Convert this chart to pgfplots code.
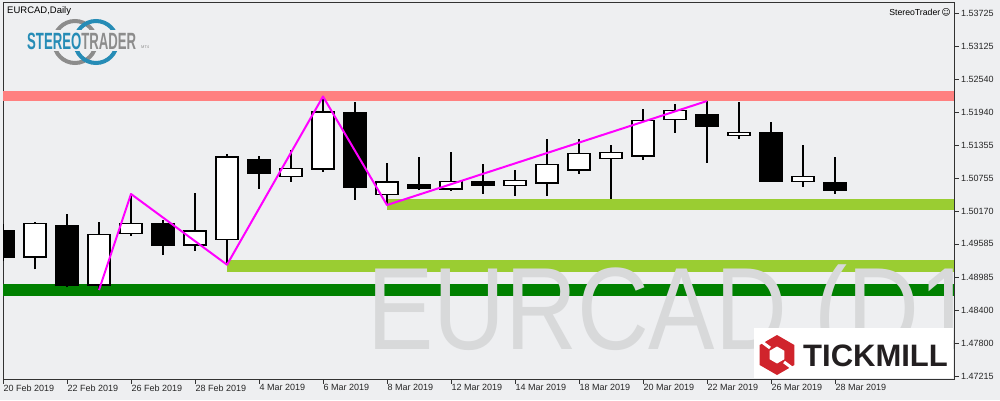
\documentclass[border=0pt]{standalone}
\usepackage{fontspec}
\setmainfont{Liberation Sans}
\newfontfamily\dejavu{DejaVu Sans}
\usepackage{graphicx}
\usepackage{pgfplots}
\usepackage{pgfplotstable}
\pgfplotsset{compat=1.18}
\usetikzlibrary{shapes.geometric}

\definecolor{bg}{RGB}{238,239,241}
\definecolor{frame}{RGB}{50,50,50}
\definecolor{pinkband}{RGB}{255,128,128}
\definecolor{dgreen}{RGB}{0,128,0}
\definecolor{ygreen}{RGB}{154,205,50}
\definecolor{zigzag}{RGB}{255,0,255}
\definecolor{wm}{RGB}{216,217,218}
\definecolor{stblue}{RGB}{38,140,182}
\definecolor{stgray}{RGB}{140,140,140}
\definecolor{tmred}{RGB}{208,36,44}
\definecolor{tmtext}{RGB}{35,31,32}

% bullish candles: index, open, high, low, close
\pgfplotstableread{
x O H L C
1 1.49355 1.49978 1.49130 1.49954
3 1.48853 1.49978 1.48758 1.49757
4 1.49775 1.50480 1.49732 1.49954
6 1.49560 1.50503 1.49463 1.49811
7 1.49667 1.51197 1.49216 1.51138
9 1.50797 1.51269 1.50700 1.50940
10 1.50923 1.52228 1.50880 1.51945
12 1.50474 1.51036 1.50291 1.50690
14 1.50564 1.51233 1.50534 1.50707
16 1.50629 1.50910 1.50449 1.50725
17 1.50672 1.51466 1.50449 1.51012
18 1.50905 1.51466 1.50844 1.51209
19 1.51113 1.51358 1.50390 1.51227
20 1.51156 1.52004 1.51095 1.51801
21 1.51819 1.52093 1.51579 1.51980
23 1.51532 1.52129 1.51471 1.51586
25 1.50707 1.51358 1.50611 1.50797
}\candW

% bearish candles
\pgfplotstableread{
x O H L C
0 1.49822 1.49942 1.49284 1.49355
2 1.49906 1.50121 1.48807 1.48853
5 1.49954 1.50014 1.49386 1.49553
8 1.51084 1.51161 1.50575 1.50844
11 1.51927 1.52129 1.50378 1.50593
13 1.50636 1.51143 1.50551 1.50575
15 1.50690 1.51018 1.50485 1.50629
22 1.51896 1.52147 1.51041 1.51704
24 1.51573 1.51771 1.50695 1.50718
26 1.50672 1.51143 1.50485 1.50539
}\candB

\pgfplotsset{
  base/.style={width=951pt, height=377pt, scale only axis,
    at={(3pt,21pt)}, anchor=south west,
    xmin=0, xmax=29.72, ymin=1.471626, ymax=1.539222,
    enlargelimits=false, clip=true},
  hidden/.style={base, hide axis},
  wick/.style={draw=none, mark=none,
    error bars/.cd, y dir=plus, y explicit, error mark=none,
    error bar style={draw=black, line width=1.6pt}},
}

\begin{document}
\begin{tikzpicture}[x=1pt,y=1pt]
\path[use as bounding box] (0,0) rectangle (1000,400);
\fill[bg] (0,0) rectangle (1000,400);

% main axis: bands, wicks, frame and ticks
\begin{axis}[base,
  axis line style={draw=frame, line width=1pt},
  tick align=outside, major tick length=4.5pt,
  tick style={draw=frame, line width=0.8pt},
  xtick={0,2,4,6,8,10,12,14,16,18,20,22,24,26},
  xticklabels={20 Feb 2019,22 Feb 2019,26 Feb 2019,28 Feb 2019,4 Mar 2019,6 Mar 2019,8 Mar 2019,12 Mar 2019,14 Mar 2019,18 Mar 2019,20 Mar 2019,22 Mar 2019,26 Mar 2019,28 Mar 2019},
  xtick pos=bottom,
  ytick={1.53725,1.53125,1.52540,1.51940,1.51355,1.50755,1.50170,1.49585,1.48985,1.48400,1.47800,1.47215},
  yticklabels={1.53725,1.53125,1.52540,1.51940,1.51355,1.50755,1.50170,1.49585,1.48985,1.48400,1.47800,1.47215},
  ytick pos=right, yticklabel pos=right,
  scaled y ticks=false, scaled x ticks=false,
  ticklabel style={font=\fontsize{9}{10}\selectfont, text=black!85},
  xticklabel style={anchor=north west, inner xsep=0.5pt, inner ysep=1pt},
  yticklabel style={anchor=west, inner xsep=2.5pt},
]
\addplot[draw=none, fill=pinkband] coordinates {(0,1.52147) (29.72,1.52147) (29.72,1.52327) (0,1.52327)};
\addplot[draw=none, fill=dgreen] coordinates {(0,1.48651) (29.72,1.48651) (29.72,1.48866) (0,1.48866)};
\addplot[draw=none, fill=ygreen] coordinates {(7,1.49081) (29.72,1.49081) (29.72,1.49296) (7,1.49296)};
\addplot[draw=none, fill=ygreen] coordinates {(12,1.50193) (29.72,1.50193) (29.72,1.50390) (12,1.50390)};
\addplot[wick] table[x=x, y=L, y error expr=\thisrow{H}-\thisrow{L}] {\candW};
\addplot[wick] table[x=x, y=L, y error expr=\thisrow{H}-\thisrow{L}] {\candB};
\end{axis}

% bullish bodies
\begin{axis}[hidden, ybar stacked, bar width=22.4pt]
\addplot[draw=none, fill=none] table[x=x, y=O] {\candW};
\addplot[draw=black, fill=white, line width=1.6pt] table[x=x, y expr=\thisrow{C}-\thisrow{O}] {\candW};
\end{axis}

% bearish bodies
\begin{axis}[hidden, ybar stacked, bar width=22.4pt]
\addplot[draw=none, fill=none] table[x=x, y=C] {\candB};
\addplot[draw=black, fill=black, line width=1.6pt] table[x=x, y expr=\thisrow{O}-\thisrow{C}] {\candB};
\end{axis}

% zigzag
\begin{axis}[hidden]
\addplot[zigzag, line width=2pt, line join=round] coordinates {(3,1.48758) (4,1.50480) (7,1.49212) (10,1.52228) (12,1.50282) (22,1.52147)};
\end{axis}

% watermark
\begin{scope}
\clip (3.5,21.5) rectangle (953.5,397.5);
\node[anchor=base west, inner sep=0pt, text=wm] at (367,51)
  {\scalebox{0.85}[1]{\fontsize{117}{117}\selectfont EURCAD (D1}};
\end{scope}

% Tickmill box
\fill[white] (754,21.6) rectangle (953.4,72);
\node[regular polygon, regular polygon sides=6, minimum size=40pt, fill=tmred, inner sep=0pt, rotate=30] at (777,45) {};
\node[regular polygon, regular polygon sides=6, minimum size=17pt, fill=white, inner sep=0pt, rotate=30] at (777,45) {};
\draw[white, line width=3pt] (770,52) -- (762,58);
\draw[white, line width=3pt] (784,38) -- (792,32);
\node[anchor=base west, inner sep=0pt, text=tmtext] at (803,34)
  {\fontsize{31}{31}\selectfont\bfseries TICKMILL};

% top-left labels and logo
\node[anchor=west, inner sep=0pt] at (7,389) {\fontsize{9.5}{10}\selectfont EURCAD,Daily};
\draw[stgray, line width=4pt] (75,358) circle (21);
\draw[stblue, line width=4pt] (96,358) circle (21);
\fill[bg] (24,349) rectangle (150,370);
\node[anchor=base west, inner sep=0pt] at (27,351)
  {\scalebox{0.56}[1]{\fontsize{23.5}{24}\selectfont\bfseries\textcolor{stblue}{STEREO}\textcolor{stgray}{TRADER}}};
\node[anchor=base west, inner sep=0pt, text=stgray] at (141,352) {\fontsize{4}{4}\selectfont MT4};

% top-right label
\node[anchor=east, inner sep=0pt] at (951,388) {\fontsize{8.7}{10}\selectfont StereoTrader\,{\dejavu ☺}};
\end{tikzpicture}
\end{document}
